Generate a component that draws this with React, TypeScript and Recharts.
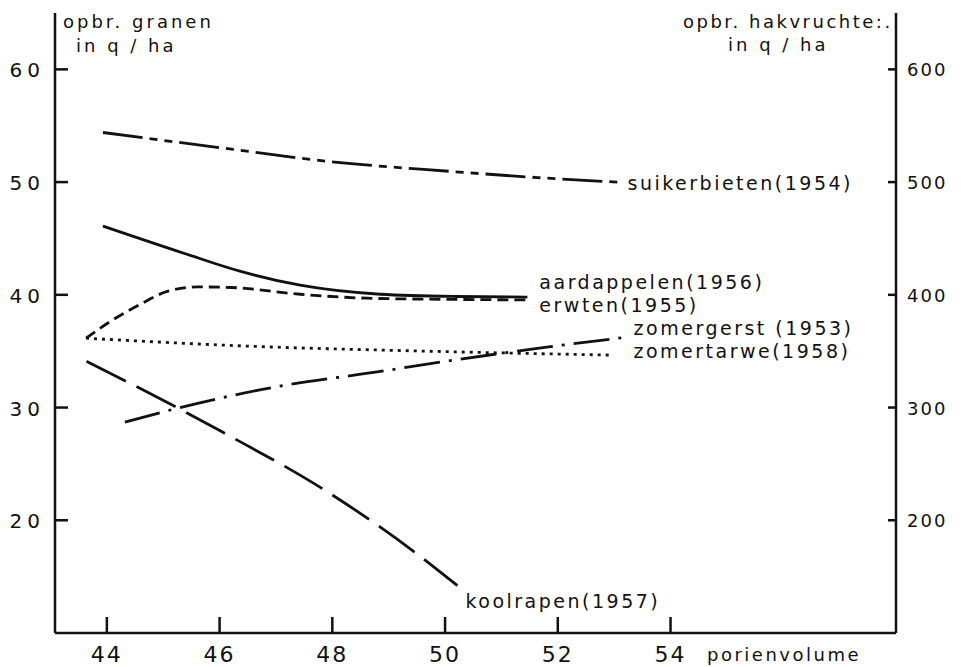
import { LineChart, Line, XAxis, YAxis } from 'recharts';

const FONT = '"DejaVu Sans", sans-serif';
const INK = '#111';

// porienvolume (x) and yield values
// hakvruchten -> right axis (q/ha), granen/erwten -> left axis (q/ha)
const suikerX = [43.93, 46.24, 47.9, 50.09, 51.64, 53.06];
const suikerY = [544, 529, 518.5, 509.5, 504, 500];

const aardappelX = [43.93, 45.42, 46.36, 47.43, 48.85, 50.2, 51.46];
const aardappelY = [461, 436, 421, 408.5, 400.5, 398.5, 398];

const erwtenX = [43.63, 44.05, 44.59, 45.07, 45.6, 46.2, 47.43, 48.62, 50.0, 51.46];
const erwtenY = [36.15, 37.6, 39.15, 40.3, 40.7, 40.65, 40.05, 39.7, 39.6, 39.55];

const gerstX = [44.32, 45.3, 47.07, 48.85, 49.68, 51.87, 53.15];
const gerstY = [28.7, 30.0, 31.9, 33.2, 33.85, 35.4, 36.2];

const tarweX = [43.63, 46.49, 49.68, 52.97];
const tarweY = [36.15, 35.45, 35.0, 34.65];

const koolX = [43.64, 45.3, 46.06, 47.84, 49.56, 50.22];
const koolY = [341, 298.5, 278, 227.5, 168, 142];

const xTicks = [44, 46, 48, 50, 52, 54];
const leftTicks = [20, 30, 40, 50, 60];
const rightTicks = [200, 300, 400, 500, 600];

const toPoints = (xs: number[], ys: number[]) => xs.map((x, i) => ({ x, y: ys[i] }));

const series = [
  { name: 'suikerbieten(1954)', axis: 'right', data: toPoints(suikerX, suikerY), dash: '40 7 8 7 8 7', dx: 10, dy: 8 },
  { name: 'aardappelen(1956)', axis: 'right', data: toPoints(aardappelX, aardappelY), dash: undefined, dx: 12, dy: -8 },
  { name: 'erwten(1955)', axis: 'left', data: toPoints(erwtenX, erwtenY), dash: '11 6', dx: 12, dy: 12 },
  { name: 'zomergerst (1953)', axis: 'left', data: toPoints(gerstX, gerstY), dash: '36 9 3 9', dx: 11, dy: -3 },
  { name: 'zomertarwe(1958)', axis: 'left', data: toPoints(tarweX, tarweY), dash: '3 5', dx: 21, dy: 3 },
  { name: 'koolrapen(1957)', axis: 'right', data: toPoints(koolX, koolY), dash: '44 12', dx: 8, dy: 22 },
];

const tickLineStyle = { stroke: INK, strokeWidth: 2.5 };

function LeftTick(props: any) {
  const { x, y, payload } = props;
  return (
    <text x={x} y={y + 8} textAnchor="end" fontFamily={FONT} fontSize={20} letterSpacing={5} fill={INK}>
      {payload.value}
    </text>
  );
}

function RightTick(props: any) {
  const { x, y, payload } = props;
  return (
    <text x={x} y={y + 7} textAnchor="start" fontFamily={FONT} fontSize={18} letterSpacing={2} fill={INK}>
      {payload.value}
    </text>
  );
}

function BottomTick(props: any) {
  const { x, y, payload } = props;
  return (
    <text x={x} y={y} textAnchor="middle" fontFamily={FONT} fontSize={22} letterSpacing={2} fill={INK}>
      {payload.value}
    </text>
  );
}

const endLabel = (text: string, count: number, dx: number, dy: number) => (p: any) =>
  p.index === count - 1 ? (
    <text key={text} x={p.x + dx} y={p.y + dy} fontFamily={FONT} fontSize={19} letterSpacing={2.5} fill={INK}>
      {text}
    </text>
  ) : (
    <g key={`${text}-${p.index}`} />
  );

const titleStyle = { fontFamily: FONT, fontSize: 18, fill: INK };

export default function App() {
  return (
    <div style={{ position: 'absolute', left: 0, top: 0, width: 974, height: 667, background: '#fff' }}>
      <LineChart width={974} height={667} margin={{ top: 13, right: 0, bottom: 0, left: 0 }}>
        <XAxis
          type="number"
          dataKey="x"
          domain={[43.08, 58]}
          ticks={xTicks}
          allowDataOverflow
          height={34}
          tickSize={-16}
          tickMargin={45}
          tick={<BottomTick />}
          axisLine={{ stroke: INK, strokeWidth: 2.5 }}
          tickLine={tickLineStyle}
        />
        <YAxis
          yAxisId="left"
          domain={[10, 65]}
          ticks={leftTicks}
          allowDataOverflow
          width={55}
          tickSize={-13}
          tickMargin={23}
          tick={<LeftTick />}
          axisLine={{ stroke: INK, strokeWidth: 2.5 }}
          tickLine={tickLineStyle}
        />
        <YAxis
          yAxisId="right"
          orientation="right"
          domain={[100, 650]}
          ticks={rightTicks}
          allowDataOverflow
          width={78}
          tickSize={-8}
          tickMargin={19}
          tick={<RightTick />}
          axisLine={{ stroke: INK, strokeWidth: 2.5 }}
          tickLine={tickLineStyle}
        />
        {series.map((s) => (
          <Line
            key={s.name}
            yAxisId={s.axis}
            data={s.data}
            dataKey="y"
            type="monotone"
            stroke={INK}
            strokeWidth={2.8}
            strokeDasharray={s.dash}
            dot={false}
            activeDot={false}
            isAnimationActive={false}
            label={endLabel(s.name, s.data.length, s.dx, s.dy)}
          />
        ))}
      </LineChart>
      <svg width={974} height={667} style={{ position: 'absolute', left: 0, top: 0, pointerEvents: 'none' }}>
        <text x={63} y={28} {...titleStyle} letterSpacing={3}>opbr. granen</text>
        <text x={76} y={52} {...titleStyle} letterSpacing={3}>in q / ha</text>
        <text x={683} y={28} {...titleStyle} letterSpacing={2.5}>opbr. hakvruchte:.</text>
        <text x={728} y={51} {...titleStyle} letterSpacing={3}>in q / ha</text>
        <text x={707} y={661} fontFamily={FONT} fontSize={18} letterSpacing={2.5} fill={INK}>porienvolume</text>
      </svg>
    </div>
  );
}
